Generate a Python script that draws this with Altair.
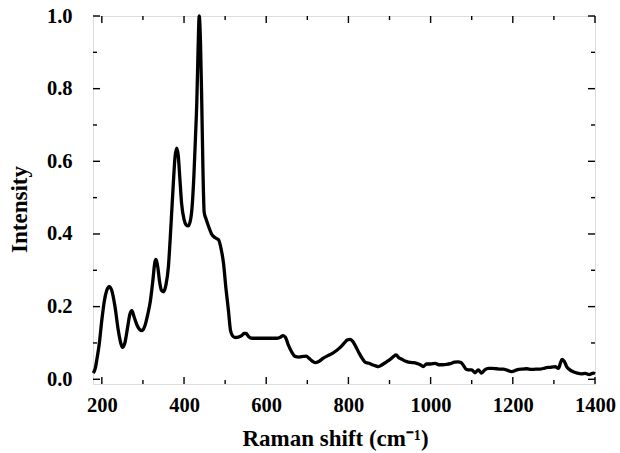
import altair as alt
import pandas as pd

# Raman spectrum
shift = [179, 184, 188, 194, 200, 206, 212, 218, 224, 232, 240, 246, 250, 256, 263, 268, 273, 279, 286, 292,
         298, 305, 312, 318, 324, 329, 332, 336, 341, 345, 350, 356, 362, 366, 370, 374, 378, 382, 386, 390,
         394, 400, 405, 410, 416, 420, 424, 428, 431, 434, 437, 440, 443, 446, 449, 454, 460, 467, 475, 484,
         490, 496, 502, 508, 513, 518, 525, 532, 540, 546, 551, 557, 565, 580, 600, 625, 633, 641, 647, 654,
         662, 670, 680, 690, 697, 705, 712, 719, 728, 739, 750, 762, 772, 782, 790, 797, 804, 810, 818, 826,
         835, 842, 850, 858, 866, 873, 882, 893, 902, 910, 916, 922, 930, 938, 946, 955, 966, 975, 982, 990,
         1000, 1011, 1020, 1030, 1039, 1048, 1058, 1067, 1074, 1080, 1086, 1092, 1100, 1108, 1116, 1124, 1132,
         1140, 1150, 1160, 1170, 1177, 1186, 1197, 1210, 1222, 1234, 1245, 1256, 1266, 1278, 1290, 1303, 1311,
         1316, 1320, 1325, 1331, 1339, 1347, 1357, 1367, 1376, 1386, 1396, 1400]
intensity = [0.017, 0.03, 0.055, 0.10, 0.163, 0.215, 0.245, 0.255, 0.245, 0.20, 0.135, 0.10, 0.088, 0.10, 0.145,
             0.178, 0.189, 0.17, 0.148, 0.137, 0.134, 0.148, 0.18, 0.215, 0.27, 0.322, 0.33, 0.31, 0.265, 0.245,
             0.241, 0.26, 0.31, 0.38, 0.46, 0.54, 0.61, 0.636, 0.615, 0.55, 0.485, 0.44, 0.425, 0.422, 0.44, 0.48,
             0.56, 0.67, 0.76, 0.90, 1.0, 0.93, 0.77, 0.58, 0.46, 0.44, 0.42, 0.40, 0.39, 0.384, 0.36, 0.32, 0.25,
             0.19, 0.135, 0.12, 0.115, 0.116, 0.12, 0.126, 0.126, 0.118, 0.113, 0.113, 0.113, 0.113, 0.115, 0.12,
             0.115, 0.094, 0.075, 0.063, 0.061, 0.063, 0.064, 0.057, 0.05, 0.046, 0.049, 0.058, 0.065, 0.072,
             0.08, 0.09, 0.1, 0.108, 0.11, 0.105, 0.09, 0.072, 0.055, 0.046, 0.044, 0.04, 0.037, 0.035, 0.04,
             0.048, 0.055, 0.063, 0.067, 0.06, 0.055, 0.05, 0.047, 0.046, 0.044, 0.04, 0.035, 0.042, 0.042,
             0.044, 0.04, 0.04, 0.041, 0.043, 0.047, 0.048, 0.046, 0.038, 0.028, 0.026, 0.026, 0.018, 0.026,
             0.017, 0.026, 0.03, 0.03, 0.029, 0.028, 0.028, 0.025, 0.021, 0.026, 0.028, 0.029, 0.027, 0.028,
             0.028, 0.031, 0.033, 0.035, 0.03, 0.045, 0.055, 0.05, 0.035, 0.026, 0.021, 0.017, 0.015, 0.016,
             0.013, 0.017, 0.015]

x_major = [200, 400, 600, 800, 1000, 1200, 1400]
x_minor = [300, 500, 700, 900, 1100, 1300]
y_major = [0.0, 0.2, 0.4, 0.6, 0.8, 1.0]
y_minor = [0.1, 0.3, 0.5, 0.7, 0.9]

W, H = 502, 368
FONT = "Liberation Serif"
MAJ, MIN = 7, 4

xs = alt.Scale(domain=[178.5, 1400], nice=False, zero=False)
ys = alt.Scale(domain=[-0.013, 1.0], nice=False, zero=False)

x_axis = alt.Axis(values=x_major, format="d", ticks=False, tickSize=0, domain=False, grid=False,
                  labelFont=FONT, labelFontWeight="bold", labelFontSize=20.5, labelColor="black",
                  labelPadding=11, labelFlush=False,
                  title="Raman shift (cm\u207b\u00b9)", titleFont=FONT, titleFontWeight="bold",
                  titleFontSize=23, titleColor="black", titleX=242, titleY=54,
                  titleAlign="center", titleBaseline="middle")
y_axis = alt.Axis(values=y_major, format=".1f", ticks=False, tickSize=0, domain=False, grid=False,
                  labelFont=FONT, labelFontWeight="bold", labelFontSize=20.5, labelColor="black",
                  labelPadding=21, labelFlush=False,
                  title="Intensity", titleFont=FONT, titleFontWeight="bold",
                  titleFontSize=23, titleColor="black", titleX=-74, titleY=193,
                  titleAlign="center", titleBaseline="middle")

df = pd.DataFrame({"shift": shift, "intensity": intensity})

line = alt.Chart(df).mark_line(color="black", strokeWidth=3.3, interpolate="monotone").encode(
    x=alt.X("shift:Q", scale=xs, axis=x_axis),
    y=alt.Y("intensity:Q", scale=ys, axis=y_axis),
)


def xticks(vals, size):
    d = pd.DataFrame({"shift": vals})
    bottom = alt.Chart(d).mark_rule(color="black", strokeWidth=1.4).encode(
        x=alt.X("shift:Q", scale=xs, axis=x_axis), y=alt.value(H), y2=alt.value(H - size))
    top = alt.Chart(d).mark_rule(color="black", strokeWidth=1.4).encode(
        x=alt.X("shift:Q", scale=xs, axis=x_axis), y=alt.value(0), y2=alt.value(size))
    return [bottom, top]


def yticks(vals, size):
    d = pd.DataFrame({"intensity": vals})
    left = alt.Chart(d).mark_rule(color="black", strokeWidth=1.4).encode(
        y=alt.Y("intensity:Q", scale=ys, axis=y_axis), x=alt.value(0), x2=alt.value(size))
    right = alt.Chart(d).mark_rule(color="black", strokeWidth=1.4).encode(
        y=alt.Y("intensity:Q", scale=ys, axis=y_axis), x=alt.value(W), x2=alt.value(W - size))
    return [left, right]


layers = [line] + xticks(x_major, MAJ) + xticks(x_minor, MIN) + yticks(y_major, MAJ) + yticks(y_minor, MIN)

chart = alt.layer(*layers).properties(
    width=W, height=H,
    autosize=alt.AutoSizeParams(type="none"),
    padding={"left": 93, "top": 16, "right": 25, "bottom": 69},
).configure_view(stroke="black", strokeWidth=1.8).configure(background="white")

chart.save("out.html", embed_options={"renderer": "svg", "actions": False})
